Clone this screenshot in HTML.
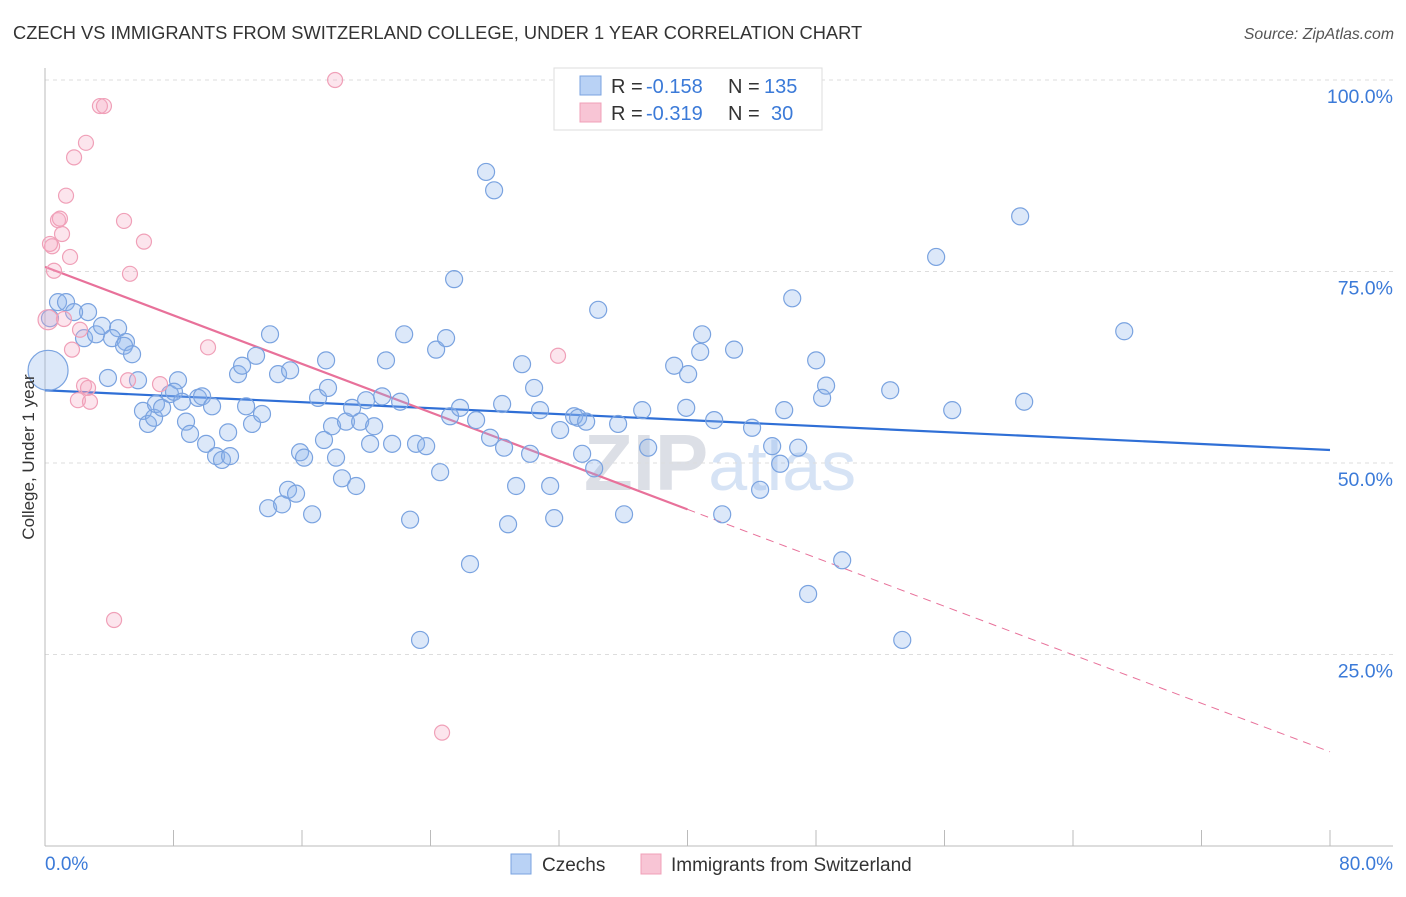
<!DOCTYPE html>
<html><head><meta charset="utf-8"><style>
body{margin:0;background:#fff;font-family:"Liberation Sans",sans-serif;}
svg text{font-family:"Liberation Sans",sans-serif;}
</style></head><body>
<svg id="chart" width="1406" height="892" xmlns="http://www.w3.org/2000/svg">
<text x="13" y="39" font-size="18.3" fill="#333">CZECH VS IMMIGRANTS FROM SWITZERLAND COLLEGE, UNDER 1 YEAR CORRELATION CHART</text>
<text x="1394" y="39" font-size="15.8" fill="#555" text-anchor="end" font-style="italic">Source: ZipAtlas.com</text>
<text x="720" y="490" font-size="80" fill="#dcdfe6" text-anchor="middle" font-weight="bold">ZIP<tspan fill="#d6e3f5" font-weight="normal" font-size="70">atlas</tspan></text>
<g id="grid"></g>
<g id="axes"></g>
<g id="lines"></g>
<g id="pts"></g>
<text transform="translate(34,457) rotate(-90)" font-size="17" fill="#333" text-anchor="middle">College, Under 1 year</text>
<text x="45" y="870" font-size="19" fill="#3b7ad8">0.0%</text>
<text x="1393" y="870" font-size="19" fill="#3b7ad8" text-anchor="end">80.0%</text>
<g>
<rect x="554" y="68" width="268" height="62" fill="#fff" stroke="#ddd"/>
<rect x="580" y="76" width="21" height="19" fill="#b9d2f5" stroke="#7aa3e0"/>
<rect x="580" y="103" width="21" height="19" fill="#f8c5d5" stroke="#f0a0b8"/>
<text x="611" y="93" font-size="20" fill="#333">R =</text>
<text x="646" y="93" font-size="20" fill="#3b7ad8">-0.158</text>
<text x="728" y="93" font-size="20" fill="#333">N =</text>
<text x="764" y="93" font-size="20" fill="#3b7ad8">135</text>
<text x="611" y="120" font-size="20" fill="#333">R =</text>
<text x="646" y="120" font-size="20" fill="#3b7ad8">-0.319</text>
<text x="728" y="120" font-size="20" fill="#333">N =</text>
<text x="771" y="120" font-size="20" fill="#3b7ad8">30</text>
</g>
<g>
<rect x="511" y="854" width="20" height="20" fill="#b9d2f5" stroke="#7aa3e0"/>
<text x="542" y="871" font-size="19" fill="#333">Czechs</text>
<rect x="641" y="854" width="20" height="20" fill="#f8c5d5" stroke="#f0a0b8"/>
<text x="671" y="871" font-size="19" fill="#333">Immigrants from Switzerland</text>
</g>
</svg>
<script>
const yTicks=[25,50,75,100];
const yTickLabels=["25.0%","50.0%","75.0%","100.0%"];
const xTicks=[0,8,16,24,32,40,48,56,64,72,80];
const blueX=[0.19,0.81,1.31,2.68,1.81,0.31,2.43,3.18,3.55,4.55,4.17,5.04,4.92,5.42,3.92,5.79,6.10,6.41,6.79,6.91,7.29,7.78,8.28,8.03,8.53,8.78,9.03,9.53,9.78,10.03,10.40,10.65,11.02,11.52,11.40,12.52,12.89,12.02,12.27,13.14,13.51,14.01,14.51,15.26,13.89,14.76,15.13,15.63,15.88,16.13,16.63,17.00,17.37,17.62,17.50,17.87,18.12,18.49,18.74,19.12,19.37,19.62,19.99,20.24,20.49,20.99,21.23,21.61,22.11,22.36,22.73,23.10,23.35,23.73,24.35,24.60,24.97,25.22,25.47,25.84,26.84,27.46,27.71,27.96,28.46,28.58,28.83,29.33,29.70,30.20,30.45,30.82,31.45,31.70,32.07,32.94,33.19,33.44,33.69,34.19,34.44,36.05,35.68,37.18,37.55,39.17,39.92,40.04,40.79,40.91,41.66,42.16,42.90,44.02,44.52,45.27,45.77,46.02,46.52,46.89,47.51,48.01,48.38,48.63,49.63,52.62,53.37,55.48,56.48,60.71,60.96,67.19,26.46];
const blueY=[62.1,71.0,71.0,69.7,69.7,68.9,66.3,66.8,67.9,67.6,66.3,65.8,65.3,64.2,61.1,60.8,56.8,55.1,55.9,57.7,57.2,59.0,60.8,59.3,58.0,55.4,53.8,58.5,58.7,52.5,57.4,50.9,50.4,50.9,54.0,57.4,55.1,61.6,62.7,64.0,56.4,66.8,61.6,62.1,44.1,44.6,46.5,46.0,51.4,50.7,43.3,58.5,53.0,59.8,63.4,54.8,50.7,48.0,55.4,57.2,47.0,55.4,58.2,52.5,54.8,58.7,63.4,52.5,58.0,66.8,42.6,52.5,26.9,52.2,64.8,48.8,66.3,56.1,74.0,57.2,55.6,88.0,53.3,85.6,57.7,52.0,42.0,47.0,62.9,51.2,59.8,56.9,47.0,42.8,54.3,56.1,55.9,51.2,55.4,49.3,70.0,43.3,55.1,56.9,52.0,62.7,57.2,61.6,64.5,66.8,55.6,43.3,64.8,54.6,46.5,52.2,49.9,56.9,71.5,52.0,32.9,63.4,58.5,60.1,37.3,59.5,26.9,76.9,56.9,82.2,58.0,67.2,36.8];
const pinkX=[18.06,3.42,3.67,2.55,1.81,1.31,0.81,0.93,4.92,1.06,6.16,0.44,0.31,1.56,5.29,0.56,1.18,0.19,2.18,1.68,10.15,2.43,2.68,2.05,2.80,5.17,7.16,31.94,4.30,24.72];
const pinkY=[100,96.6,96.6,91.8,89.9,84.9,81.7,81.9,81.6,79.9,78.9,78.3,78.6,76.9,74.7,75.1,68.8,68.7,67.4,64.8,65.1,60.1,59.8,58.2,58.0,60.8,60.3,64.0,29.5,14.8];
const blueTrend=[59.5,51.7];
const pinkTrend=[75.6,12.3];
const NS="http://www.w3.org/2000/svg";
const xs=v=>45+v/80*1285;
const ys=v=>846-v/100*766;
function mk(t,a,p){const e=document.createElementNS(NS,t);for(const k in a)e.setAttribute(k,a[k]);p.appendChild(e);return e;}
const grid=document.getElementById('grid'),axes=document.getElementById('axes'),lines=document.getElementById('lines'),pts=document.getElementById('pts');
yTicks.forEach((t,i)=>{
 const l=mk('line',{x1:45,x2:1393,y1:ys(t),y2:ys(t),stroke:'#ddd','stroke-dasharray':'4,4'},grid);
 
 
 const tx=mk('text',{x:1393,y:ys(t)+23,'font-size':19.5,fill:'#3b7ad8','text-anchor':'end'},grid);
 tx.textContent=yTickLabels[i];
 
 
});
const ya=mk('line',{x1:45,x2:45,y1:68,y2:846,stroke:'#bbb'},axes);


const xa=mk('line',{x1:45,x2:1393,y1:846,y2:846,stroke:'#bbb'},axes);


xTicks.forEach(t=>{
 const k=mk('line',{x1:xs(t),x2:xs(t),y1:830,y2:846,stroke:'#bbb'},axes);
 
 
});
blueX.forEach((x,i)=>{
 const c=mk('circle',{cx:xs(x),cy:ys(blueY[i]),r:i===0?20:8.5,fill:'rgba(140,180,235,0.3)',stroke:'#7aa3e0','stroke-width':1.2},pts);
 
 
});
pinkX.forEach((x,i)=>{
 const c=mk('circle',{cx:xs(x),cy:ys(pinkY[i]),r:i===17?10:7.5,fill:'rgba(245,170,195,0.3)',stroke:'#f0a0b8','stroke-width':1.2},pts);
 
 
});
const bl=mk('line',{x1:xs(0),y1:ys(blueTrend[0]),x2:xs(80),y2:ys(blueTrend[1]),stroke:'#2f6fd6','stroke-width':2.2},lines);


const pm=v=>pinkTrend[0]+(pinkTrend[1]-pinkTrend[0])*v/80;
const pl=mk('line',{x1:xs(0),y1:ys(pm(0)),x2:xs(40),y2:ys(pm(40)),stroke:'#e8719a','stroke-width':2.2},lines);


const pd=mk('line',{x1:xs(40),y1:ys(pm(40)),x2:xs(80),y2:ys(pm(80)),stroke:'#e8719a','stroke-width':1,'stroke-dasharray':'8,6'},lines);


</script>
</body></html>
